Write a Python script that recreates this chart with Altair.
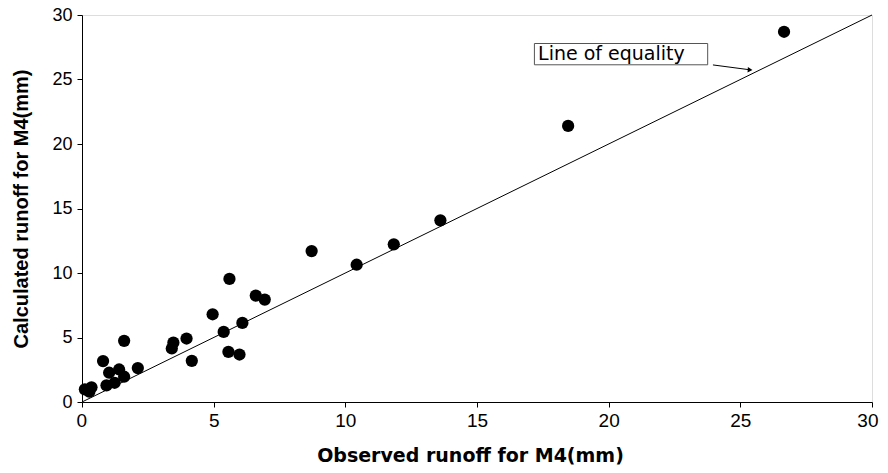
import altair as alt
import pandas as pd

# Observed (x) vs calculated (y) runoff, mm
obs = [0.11, 0.28, 0.36, 0.80, 0.93, 1.03, 1.24, 1.41, 1.60, 1.60, 2.12,
       3.41, 3.47, 3.97, 4.17, 4.96, 5.38, 5.56, 5.60, 5.98, 6.09, 6.60,
       6.94, 8.72, 10.43, 11.84, 13.61, 18.46, 26.66]
calc = [0.98, 0.80, 1.14, 3.17, 1.29, 2.27, 1.49, 2.52, 1.96, 4.74, 2.63,
        4.15, 4.60, 4.92, 3.19, 6.80, 5.43, 3.89, 9.54, 3.68, 6.13, 8.25,
        7.94, 11.70, 10.64, 12.22, 14.08, 21.40, 28.70]

eq_x = [0, 30]
eq_y = [0, 30]

label_text = "Line of equality"
box_x = [17.18, 23.76]
box_y = [26.14, 27.79]
text_pos = [17.32, 26.95]
arrow_from = [23.96, 26.13]
arrow_to = [25.37, 25.75]

FONT = "Liberation Sans"
WIDE = "DejaVu Sans"

pts = pd.DataFrame({"obs": obs, "calc": calc})
eq = pd.DataFrame({"obs": eq_x, "calc": eq_y})
box = pd.DataFrame({"x": [box_x[0]], "x2": [box_x[1]], "y": [box_y[0]], "y2": [box_y[1]]})
txt = pd.DataFrame({"x": [text_pos[0]], "y": [text_pos[1]], "t": [label_text]})
arr = pd.DataFrame({"x": [arrow_from[0]], "y": [arrow_from[1]], "x2": [arrow_to[0]], "y2": [arrow_to[1]]})
head = pd.DataFrame({"x": [arrow_to[0]], "y": [arrow_to[1]]})

xs = alt.Scale(domain=[0, 30], nice=False)
ys = alt.Scale(domain=[0, 30], nice=False)

xax = alt.Axis(values=[0, 5, 10, 15, 20, 25, 30], title="Observed runoff for M4(mm)",
               titleFontSize=19, titleFont=WIDE, titleFontWeight="bold", titleColor="black",
               titleBaseline="alphabetic", titleY=59, titleX=388,
               labelFont=FONT, labelFontSize=19, labelColor="black", labelPadding=4,
               labelFlush=True, labelFlushOffset=6, labelOverlap=False,
               tickColor="black", domainColor="black", tickSize=5, grid=False)
yax = alt.Axis(values=[0, 5, 10, 15, 20, 25, 30], title="Calculated runoff for M4(mm)",
               titleFontSize=20, titleFont=FONT, titleFontWeight="bold", titleColor="black",
               labelFont=FONT, labelFontSize=18, labelColor="black", labelPadding=5,
               labelFlush=False, labelOverlap=False,
               tickColor="black", domainColor="black", tickSize=5, grid=False,
               titlePadding=20)

line = alt.Chart(eq).mark_line(color="black", strokeWidth=1).encode(
    x=alt.X("obs:Q", scale=xs, axis=xax),
    y=alt.Y("calc:Q", scale=ys, axis=yax),
)

points = alt.Chart(pts).mark_point(filled=True, shape="circle", size=150,
                                   color="black", opacity=1).encode(
    x=alt.X("obs:Q", scale=xs),
    y=alt.Y("calc:Q", scale=ys),
)

rect = alt.Chart(box).mark_rect(fill="white", stroke="#555555", strokeWidth=1).encode(
    x="x:Q", x2="x2:Q", y="y:Q", y2="y2:Q")

text = alt.Chart(txt).mark_text(align="left", baseline="middle", font=WIDE,
                                fontSize=19, color="black").encode(
    x="x:Q", y="y:Q", text="t:N")

arrow = alt.Chart(arr).mark_rule(color="black", strokeWidth=1).encode(
    x="x:Q", y="y:Q", x2="x2:Q", y2="y2:Q")

arrowhead = alt.Chart(head).mark_point(shape="triangle-right", filled=True, size=30,
                                       color="black", opacity=1, angle=4).encode(
    x="x:Q", y="y:Q")

chart = alt.layer(line, points, rect, arrow, arrowhead, text).properties(
    width=790, height=387,
    autosize=alt.AutoSizeParams(type="none"),
    padding={"left": 74, "top": 7, "right": 8, "bottom": 63},
).configure_view(stroke="#999999", strokeWidth=1.5).configure(background="white")

chart.save("out.html", embed_options={"renderer": "svg", "actions": False})
